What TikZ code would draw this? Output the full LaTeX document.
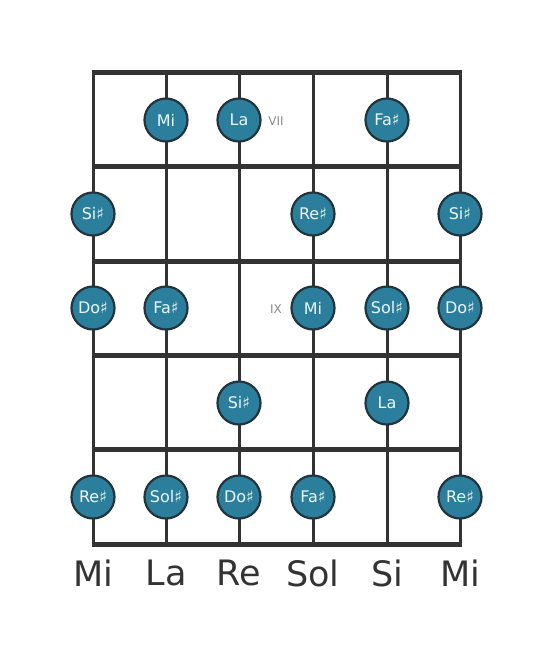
\documentclass[tikz,border=0pt]{standalone}
\usepackage{fontspec}
\setmainfont{DejaVu Sans}
\definecolor{line}{HTML}{333333}
\definecolor{notefill}{HTML}{2B7F9C}
\definecolor{noteedge}{HTML}{22343C}
\definecolor{notetext}{HTML}{EAF6FA}
\definecolor{roman}{HTML}{888888}
\begin{document}
\begin{tikzpicture}[x=1pt,y=-1pt,
  fret/.style={line width=5pt,color=line},
  strg/.style={line width=3pt,color=line},
  note/.style={circle,draw=noteedge,line width=2.2pt,fill=notefill,minimum size=43pt,inner sep=0pt,text=notetext,font=\fontsize{16}{16}\selectfont},
  rom/.style={text=roman,font=\fontsize{12}{12}\selectfont},
  tuning/.style={text=line,font=\fontsize{35}{35}\selectfont}]
\useasboundingbox (0,0) rectangle (553,656);
% strings
\foreach \x/\n in {93/1,166/2,239/3,313/4,387/5,460/6}{
  \coordinate (t\n) at (\x,72);
  \coordinate (b\n) at (\x,544);
  \draw[strg] (t\n) -- (b\n);
}
% frets
\foreach \y/\n in {72/0,166/1,261/2,355/3,449/4,544/5}{
  \coordinate (fl\n) at (91.5,\y);
  \coordinate (fr\n) at (461.5,\y);
  \draw[fret] (fl\n) -- (fr\n);
}
% notes
\node[note] (n11) at (166,120) {Mi};
\node[note] (n12) at (239,120) {La};
\node[note] (n13) at (387,120) {Fa♯};
\node[rom] (r7) at (276,121) {VII};
\node[note] (n21) at (93,214) {Si♯};
\node[note] (n22) at (313,214) {Re♯};
\node[note] (n23) at (460,214) {Si♯};
\node[note] (n31) at (93,308) {Do♯};
\node[note] (n32) at (166,308) {Fa♯};
\node[note] (n33) at (313,308) {Mi};
\node[note] (n34) at (387,308) {Sol♯};
\node[note] (n35) at (460,308) {Do♯};
\node[rom] (r9) at (276,309) {IX};
\node[note] (n41) at (239,403) {Si♯};
\node[note] (n42) at (387,403) {La};
\node[note] (n51) at (93,497) {Re♯};
\node[note] (n52) at (166,497) {Sol♯};
\node[note] (n53) at (239,497) {Do♯};
\node[note] (n54) at (313,497) {Fa♯};
\node[note] (n55) at (460,497) {Re♯};
% tuning
\node[tuning] (s1) at (93,573) {Mi};
\node[tuning] (s2) at (166,573) {La};
\node[tuning] (s3) at (239,573) {Re};
\node[tuning] (s4) at (313,573) {Sol};
\node[tuning] (s5) at (387,573) {Si};
\node[tuning] (s6) at (460,573) {Mi};
\end{tikzpicture}
\end{document}
